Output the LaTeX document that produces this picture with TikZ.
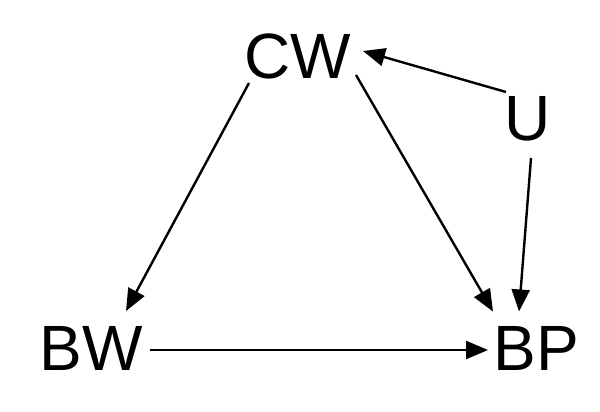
\documentclass[tikz,border=0pt]{standalone}
\usepackage{fontspec}
\setmainfont{Liberation Sans}
\usetikzlibrary{arrows.meta,calc}
\begin{document}
\begin{tikzpicture}[x=1pt,y=-1pt,
  lbl/.style={inner sep=0pt, font=\fontsize{64}{77}\selectfont},
  edge/.style={line width=2.4pt, -{Triangle[length=22pt,width=18pt]}}]
\useasboundingbox[fill=white] (0,0) rectangle (600,412);
\node[lbl] (CW) at (297.5,56.5) {CW};
\node[lbl] (U)  at (528,118.5) {U};
\node[lbl] (BW) at (91,348.5) {BW};
\node[lbl] (BP) at (536.5,348.5) {BP};
\draw[edge] ($(CW)+(-48.5,26.5)$) -- ($(BW)+(35,-37.5)$);
\draw[edge] ($(CW)+(58.5,18.5)$) -- ($(BP)+(-43.5,-37)$);
\draw[edge] ($(U)+(-22,-26.5)$) -- ($(CW)+(65.5,-5.5)$);
\draw[edge] ($(U)+(3,39.5)$) -- ($(BP)+(-17.5,-37)$);
\draw[edge] ($(BW)+(59,1.5)$) -- ($(BP)+(-48.5,1.5)$);
\end{tikzpicture}
\end{document}
